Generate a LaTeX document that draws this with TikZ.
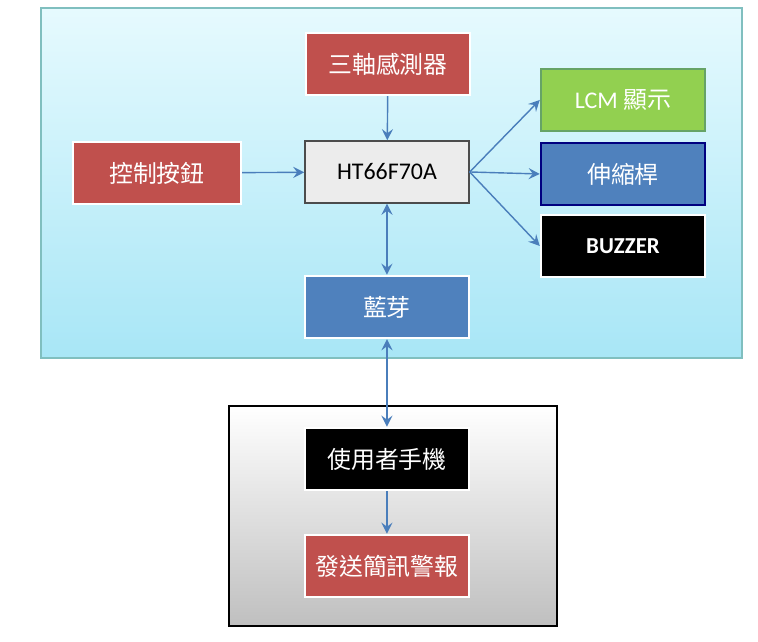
\documentclass[tikz,border=0pt]{standalone}
\usepackage{fontspec}
\setmainfont{Carlito}
\newfontfamily\cjk{Noto Sans CJK TC}
\usetikzlibrary{positioning,shadows}
\definecolor{boxred}{HTML}{C0504D}
\definecolor{boxblue}{HTML}{4F81BD}
\definecolor{boxgreen}{HTML}{92D050}
\definecolor{linkblue}{HTML}{4A7EBB}
\definecolor{skytop}{HTML}{E6FAFE}
\definecolor{skybot}{HTML}{A8E6F6}
\tikzset{
	blk/.style={draw=white, line width=0.7pt, minimum width=1.64cm, minimum height=0.62cm, inner sep=1pt,
		text=white, font=\cjk\fontsize{6.8}{6.8}\selectfont,
		drop shadow={opacity=0.3, shadow xshift=0.4pt, shadow yshift=-0.4pt}},
	link/.style={-stealth, linkblue, line width=0.4pt},
	both/.style={stealth-stealth, linkblue, line width=0.4pt}
}
\begin{document}
\begin{tikzpicture}[x=1cm,y=1cm]
	\useasboundingbox (0,0) rectangle (7.58,6.42);
	% frames
	\shade[top color=skytop, bottom color=skybot] (0.41,2.84) rectangle (7.42,6.34);
	\draw[teal!50, line width=0.6pt] (0.41,2.84) rectangle (7.42,6.34);
	\shade[top color=white, bottom color=gray!50] (2.29,0.16) rectangle (5.57,2.36);
	\draw[black, line width=0.5pt] (2.29,0.16) rectangle (5.57,2.36);

	% blocks
	\node[blk, fill=gray!15, draw=black!70, line width=0.4pt, text=black, font=\fontsize{6.8}{6.8}\selectfont] (mcu) at (3.87,4.70) {HT66F70A};
	\node[blk, fill=boxred] (sensor) at (3.88,5.78) {三軸感測器};
	\node[blk, fill=boxred, minimum width=1.68cm] (button) at (1.57,4.69) {控制按鈕};
	\node[blk, fill=boxgreen, draw=green!40!black!60] (lcm) at (6.23,5.42) {\fontspec{Carlito}LCM \cjk 顯示};
	\node[blk, fill=boxblue, draw=blue!50!black] (rod) at (6.23,4.68) {伸縮桿};
	\node[blk, fill=black, font=\bfseries\fontsize{6.5}{6.5}\selectfont] (buzzer) at (6.23,3.96) {BUZZER};
	\node[blk, fill=boxblue] (bt) at (3.87,3.35) {藍芽};
	\node[blk, fill=black] (phone) at (3.87,1.83) {使用者手機};
	\node[blk, fill=boxred] (sms) at (3.87,0.76) {發送簡訊警報};

	% connectors
	\draw[link] (sensor) -- (mcu);
	\draw[link] (button) -- (mcu);
	\draw[link] (mcu.east) -- (lcm.west);
	\draw[link] (mcu.east) -- (rod.west);
	\draw[link] (mcu.east) -- (buzzer.west);
	\draw[both] (mcu) -- (bt);
	\draw[both] (bt) -- (phone);
	\draw[link] (phone) -- (sms);
\end{tikzpicture}
\end{document}
